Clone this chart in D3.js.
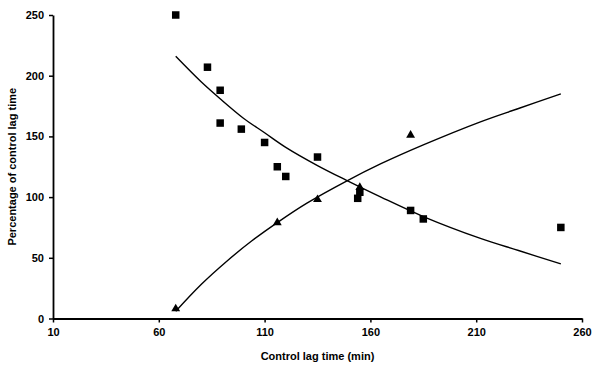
<!DOCTYPE html>
<html>
<head>
<meta charset="utf-8">
<script src="https://cdn.jsdelivr.net/npm/d3@7"></script>
<style>
  body { margin: 0; background: #fff; }
  text { font-family: "Liberation Sans", Arial, sans-serif; fill: #000; }
</style>
</head>
<body>
<div id="chart"></div>
<script>
// data
let squareX = [68, 83, 89, 89, 99, 110, 116, 120, 135, 154, 155, 179, 185, 250];
let squareY = [250, 207, 188, 161, 156, 145, 125, 117, 133, 99, 104, 89, 82, 75];

let triangleX = [68, 116, 135, 155, 179];
let triangleY = [8, 79, 98, 108, 151];

// trend lines, points
let downTrendX = [68, 80, 89, 100, 110, 120, 135, 148.5, 165, 185, 212, 230, 250];
let downTrendY = [216, 195, 181, 165, 153, 141, 126, 114, 100, 84, 66, 56, 45];

let upTrendX = [68, 80, 92, 104, 116, 130, 148.5, 165, 185, 212, 230, 250];
let upTrendY = [6, 28, 47, 64, 79, 95, 113, 127.5, 143, 162, 173, 185];

let xTicks = [10, 60, 110, 160, 210, 260];
let yTicks = [0, 50, 100, 150, 200, 250];

let width = 600, height = 366;
let margin = {left: 53, right: 18, top: 15, bottom: 47.5};

let svg = d3.select("#chart")
            .append("svg")
            .attr("width", width)
            .attr("height", height);

let x = d3.scaleLinear()
          .domain([10, 260])
          .range([margin.left, width - margin.right]);

let y = d3.scaleLinear()
          .domain([0, 250])
          .range([height - margin.bottom, margin.top]);

// trend lines
let line = d3.line()
             .x(d => x(d[0]))
             .y(d => y(d[1]))
             .curve(d3.curveCatmullRom);

svg.append("path")
   .attr("d", line(d3.zip(downTrendX, downTrendY)))
   .attr("fill", "none")
   .attr("stroke", "#000")
   .attr("stroke-width", 1.4);

svg.append("path")
   .attr("d", line(d3.zip(upTrendX, upTrendY)))
   .attr("fill", "none")
   .attr("stroke", "#000")
   .attr("stroke-width", 1.4);

// markers
let sq = 7.5;
svg.append("g")
   .selectAll("rect")
   .data(d3.zip(squareX, squareY))
   .enter().append("rect")
   .attr("x", d => x(d[0]) - sq / 2)
   .attr("y", d => y(d[1]) - sq / 2)
   .attr("width", sq)
   .attr("height", sq)
   .attr("fill", "#000");

let tri = d3.symbol().type(d3.symbolTriangle).size(34);
svg.append("g")
   .selectAll("path")
   .data(d3.zip(triangleX, triangleY))
   .enter().append("path")
   .attr("d", tri)
   .attr("transform", d => "translate(" + x(d[0]) + "," + y(d[1]) + ")")
   .attr("fill", "#000");

// axes
let xAxis = svg.append("g")
   .attr("transform", "translate(0," + y(0) + ")")
   .call(d3.axisBottom(x).tickValues(xTicks).tickSize(4).tickPadding(6).tickSizeOuter(0));

let yAxis = svg.append("g")
   .attr("transform", "translate(" + x(10) + ",0)")
   .call(d3.axisLeft(y).tickValues(yTicks).tickSize(4).tickPadding(5).tickSizeOuter(0));

[xAxis, yAxis].forEach(a => {
    a.select(".domain").attr("stroke", "#000").attr("stroke-width", 1.8);
    a.selectAll(".tick line").attr("stroke", "#000").attr("stroke-width", 1.5);
    a.selectAll(".tick text")
     .attr("font-family", "Liberation Sans, Arial, sans-serif")
     .attr("font-size", 11)
     .attr("font-weight", "bold")
     .attr("fill", "#000");
});

// axis titles
svg.append("text")
   .attr("x", (x(10) + x(260)) / 2)
   .attr("y", 360)
   .attr("text-anchor", "middle")
   .attr("font-size", 11)
   .attr("font-weight", "bold")
   .text("Control lag time (min)");

svg.append("text")
   .attr("transform", "translate(16," + (y(0) + y(250)) / 2 + ") rotate(-90)")
   .attr("text-anchor", "middle")
   .attr("font-size", 11)
   .attr("font-weight", "bold")
   .text("Percentage of control lag time");
</script>
</body>
</html>
